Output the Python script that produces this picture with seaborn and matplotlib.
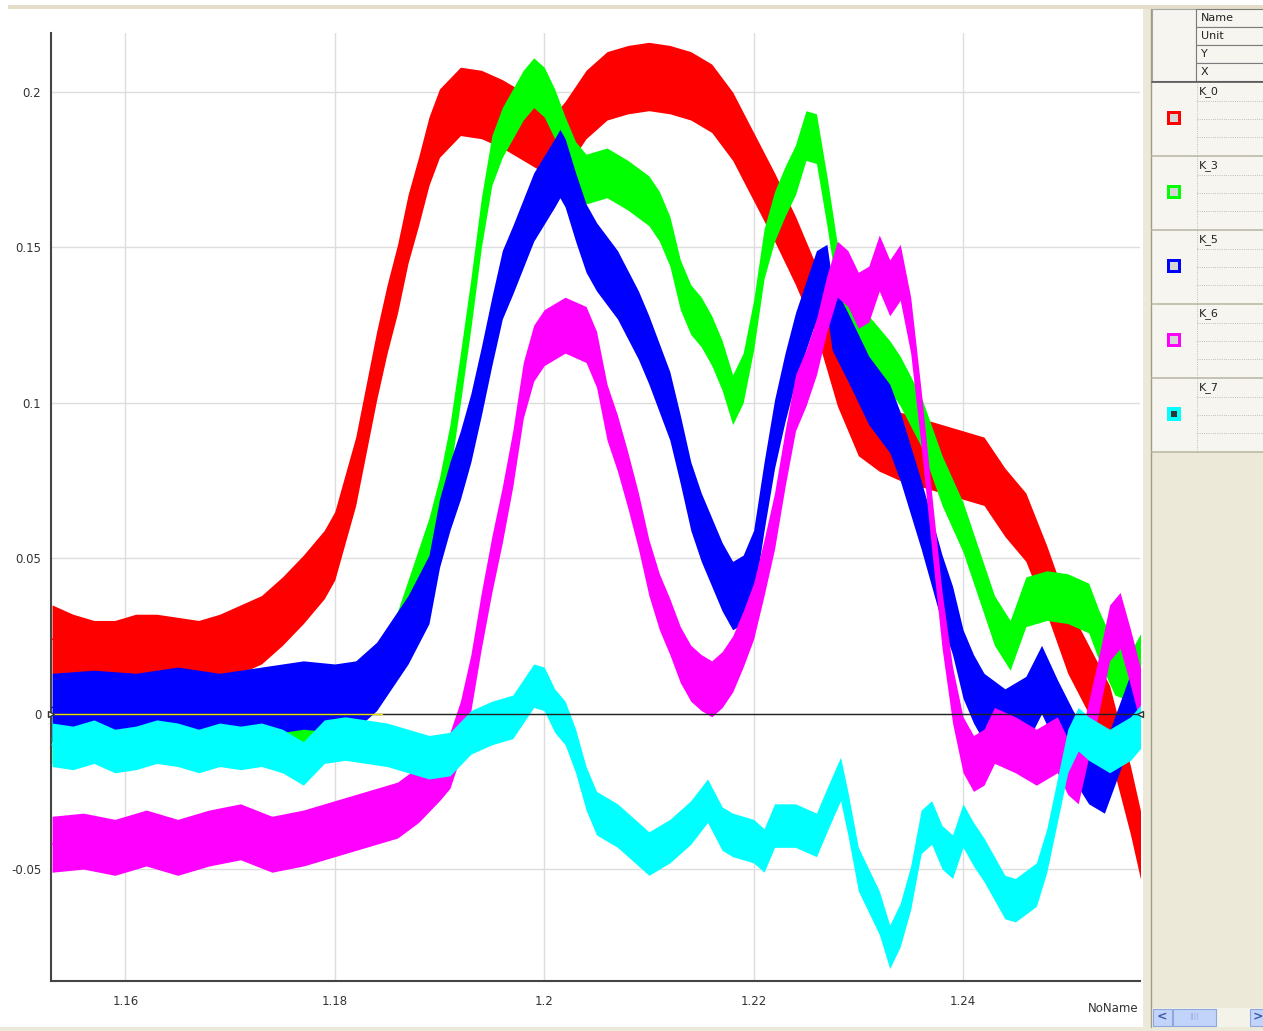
import numpy as np
import pandas as pd
import seaborn as sns
import matplotlib.pyplot as plt
from matplotlib.patches import Rectangle
from matplotlib.ticker import MultipleLocator

# --- data (centre of each noisy trace) ---
names = ['K_0', 'K_3', 'K_5', 'K_6', 'K_7']
colors = ['#ff0000', '#00ff00', '#0000ff', '#ff00ff', '#00ffff']

k0_x = [1.153, 1.155, 1.157, 1.159, 1.161, 1.163, 1.165, 1.167, 1.169, 1.171, 1.173, 1.175,
        1.177, 1.179, 1.180, 1.181, 1.182, 1.183, 1.184, 1.185, 1.186, 1.187, 1.188, 1.189,
        1.190, 1.192, 1.194, 1.196, 1.198, 1.200, 1.201, 1.202, 1.204, 1.206, 1.208, 1.210,
        1.212, 1.214, 1.216, 1.218, 1.220, 1.222, 1.224, 1.226, 1.228, 1.230, 1.232, 1.234,
        1.236, 1.238, 1.240, 1.242, 1.244, 1.246, 1.248, 1.250, 1.252, 1.254, 1.255, 1.256, 1.257]
k0_y = [0.024, 0.021, 0.019, 0.019, 0.021, 0.021, 0.020, 0.019, 0.021, 0.024, 0.027, 0.033,
        0.040, 0.048, 0.054, 0.066, 0.078, 0.095, 0.112, 0.127, 0.140, 0.156, 0.168, 0.181,
        0.190, 0.197, 0.196, 0.193, 0.189, 0.185, 0.182, 0.186, 0.196, 0.202, 0.204, 0.205,
        0.204, 0.202, 0.198, 0.189, 0.176, 0.163, 0.149, 0.133, 0.110, 0.094, 0.089, 0.086,
        0.084, 0.082, 0.080, 0.078, 0.068, 0.060, 0.043, 0.024, 0.011, -0.002, -0.015, -0.028, -0.043]

k3_x = [1.153, 1.157, 1.161, 1.165, 1.169, 1.173, 1.177, 1.180, 1.182, 1.184, 1.186, 1.187,
        1.188, 1.189, 1.190, 1.191, 1.192, 1.193, 1.194, 1.195, 1.196, 1.197, 1.198, 1.199,
        1.200, 1.201, 1.202, 1.203, 1.204, 1.206, 1.208, 1.210, 1.211, 1.212, 1.213, 1.214,
        1.215, 1.216, 1.217, 1.218, 1.219, 1.220, 1.221, 1.222, 1.223, 1.224, 1.225, 1.226,
        1.227, 1.228, 1.229, 1.231, 1.233, 1.234, 1.236, 1.238, 1.240, 1.242, 1.243, 1.2445,
        1.246, 1.248, 1.250, 1.252, 1.253, 1.2545, 1.256, 1.257]
k3_y = [-0.008, -0.006, -0.007, -0.005, -0.006, -0.004, -0.003, 0.000, 0.004, 0.012, 0.025, 0.035,
        0.045, 0.055, 0.068, 0.085, 0.108, 0.132, 0.158, 0.178, 0.187, 0.193, 0.199, 0.203,
        0.200, 0.193, 0.184, 0.176, 0.172, 0.174, 0.170, 0.165, 0.160, 0.152, 0.138, 0.130,
        0.126, 0.120, 0.112, 0.101, 0.108, 0.125, 0.148, 0.160, 0.168, 0.175, 0.186, 0.185,
        0.165, 0.143, 0.130, 0.120, 0.112, 0.107, 0.094, 0.075, 0.060, 0.040, 0.030, 0.022,
        0.036, 0.038, 0.037, 0.034, 0.025, 0.014, 0.012, 0.018]

k5_x = [1.153, 1.157, 1.161, 1.165, 1.169, 1.173, 1.177, 1.180, 1.182, 1.184, 1.185, 1.187,
        1.189, 1.190, 1.191, 1.192, 1.193, 1.194, 1.195, 1.196, 1.197, 1.199, 1.201, 1.2015,
        1.202, 1.203, 1.204, 1.205, 1.207, 1.209, 1.210, 1.211, 1.212, 1.213, 1.214, 1.215,
        1.216, 1.217, 1.218, 1.219, 1.220, 1.221, 1.222, 1.223, 1.224, 1.225, 1.226, 1.227,
        1.2275, 1.229, 1.231, 1.233, 1.234, 1.235, 1.236, 1.237, 1.238, 1.239, 1.240, 1.241,
        1.242, 1.244, 1.246, 1.2475, 1.249, 1.2505, 1.252, 1.2535, 1.2547, 1.256, 1.257]
k5_y = [0.002, 0.003, 0.002, 0.004, 0.002, 0.004, 0.006, 0.005, 0.006, 0.012, 0.017, 0.027,
        0.040, 0.058, 0.070, 0.080, 0.092, 0.107, 0.123, 0.138, 0.146, 0.163, 0.174, 0.177,
        0.174, 0.163, 0.153, 0.147, 0.138, 0.125, 0.117, 0.108, 0.099, 0.085, 0.070, 0.060,
        0.052, 0.044, 0.038, 0.040, 0.048, 0.070, 0.090, 0.105, 0.118, 0.128, 0.138, 0.140,
        0.128, 0.118, 0.104, 0.095, 0.086, 0.075, 0.064, 0.052, 0.040, 0.030, 0.016, 0.008,
        0.002, -0.003, 0.001, 0.011, 0.000, -0.010, -0.018, -0.021, -0.010, 0.002, 0.000]

k6_x = [1.153, 1.156, 1.159, 1.162, 1.165, 1.168, 1.171, 1.174, 1.177, 1.180, 1.183, 1.186,
        1.188, 1.190, 1.191, 1.192, 1.193, 1.194, 1.195, 1.196, 1.197, 1.198, 1.199, 1.200,
        1.202, 1.204, 1.205, 1.206, 1.207, 1.208, 1.209, 1.210, 1.211, 1.212, 1.213, 1.214,
        1.215, 1.216, 1.217, 1.218, 1.219, 1.220, 1.221, 1.222, 1.223, 1.224, 1.225, 1.226,
        1.227, 1.228, 1.229, 1.230, 1.231, 1.232, 1.233, 1.234, 1.235, 1.236, 1.237, 1.238,
        1.239, 1.240, 1.241, 1.242, 1.243, 1.245, 1.247, 1.249, 1.250, 1.251, 1.252, 1.253,
        1.254, 1.255, 1.256, 1.257]
k6_y = [-0.042, -0.041, -0.043, -0.040, -0.043, -0.040, -0.038, -0.042, -0.040, -0.037, -0.034, -0.031,
        -0.026, -0.019, -0.015, -0.005, 0.010, 0.030, 0.048, 0.064, 0.082, 0.104, 0.116, 0.121,
        0.125, 0.122, 0.114, 0.097, 0.087, 0.075, 0.062, 0.047, 0.036, 0.028, 0.019, 0.013,
        0.010, 0.008, 0.011, 0.016, 0.024, 0.033, 0.047, 0.062, 0.082, 0.100, 0.108, 0.118,
        0.132, 0.143, 0.140, 0.133, 0.135, 0.145, 0.137, 0.142, 0.125, 0.095, 0.062, 0.030,
        0.006, -0.010, -0.016, -0.014, -0.007, -0.010, -0.014, -0.010, -0.017, -0.020, -0.005, 0.010,
        0.026, 0.030, 0.018, 0.005]

k7_x = [1.153, 1.155, 1.157, 1.159, 1.161, 1.163, 1.165, 1.167, 1.169, 1.171, 1.173, 1.175,
        1.177, 1.179, 1.181, 1.183, 1.185, 1.187, 1.189, 1.191, 1.193, 1.195, 1.197, 1.198,
        1.199, 1.200, 1.201, 1.202, 1.203, 1.204, 1.205, 1.207, 1.209, 1.210, 1.212, 1.214,
        1.2156, 1.217, 1.218, 1.220, 1.221, 1.222, 1.224, 1.226, 1.227, 1.2283, 1.229, 1.230,
        1.231, 1.232, 1.233, 1.234, 1.235, 1.236, 1.237, 1.238, 1.239, 1.240, 1.241, 1.242,
        1.243, 1.244, 1.245, 1.247, 1.248, 1.249, 1.250, 1.251, 1.252, 1.254, 1.256, 1.257]
k7_y = [-0.010, -0.011, -0.009, -0.012, -0.011, -0.009, -0.010, -0.012, -0.010, -0.011, -0.010, -0.012,
        -0.016, -0.009, -0.008, -0.009, -0.010, -0.012, -0.014, -0.013, -0.006, -0.003, -0.001, 0.004,
        0.009, 0.008, 0.001, -0.003, -0.012, -0.024, -0.032, -0.036, -0.042, -0.045, -0.041, -0.035,
        -0.028, -0.037, -0.039, -0.041, -0.044, -0.036, -0.036, -0.039, -0.031, -0.021, -0.032, -0.050,
        -0.057, -0.064, -0.075, -0.068, -0.056, -0.038, -0.035, -0.043, -0.046, -0.036, -0.042, -0.047,
        -0.053, -0.059, -0.060, -0.055, -0.044, -0.028, -0.012, -0.005, -0.008, -0.012, -0.008, -0.004]

# thickness of the noise band around each trace (half width)
noise = [0.011, 0.008, 0.011, 0.009, 0.007]

xs_all = [k0_x, k3_x, k5_x, k6_x, k7_x]
ys_all = [k0_y, k3_y, k5_y, k6_y, k7_y]
df = pd.concat([pd.DataFrame({'x': xs, 'y': ys, 'name': n})
                for n, xs, ys in zip(names, xs_all, ys_all)], ignore_index=True)

sns.set_style('white')
plt.rcParams['font.family'] = ['DejaVu Sans']

W, H = 1263, 1031
fig = plt.figure(figsize=(W / 100, H / 100), dpi=100)

# background / side panel drawn in pixel coordinates
bg = fig.add_axes([0, 0, 1, 1], zorder=0)
bg.set_xlim(0, W)
bg.set_ylim(H, 0)
bg.axis('off')


def box(x0, y0, x1, y1, fc, ec='none', lw=0.8):
    bg.add_patch(Rectangle((x0, y0), x1 - x0, y1 - y0, fc=fc, ec=ec, lw=lw))


box(8, 5, W, 9, '#e3ddc9')
box(0, 1027, W, H, '#ece9d8')
box(1143, 9, W, 1027, '#ece9d8')
bg.plot([1151, 1151], [9, 1027], color='#a09c8c', lw=1)

# header of the legend table
box(1152, 9, 1196, 81, '#f6f5f0', '#a8a8a8')
for j, lab in enumerate(['Name', 'Unit', 'Y', 'X']):
    y0 = 9 + 18 * j
    box(1196, y0, W + 2, y0 + 18, '#f6f5f0', '#7c7c7c')
    bg.text(1201, y0 + 9, lab, fontsize=8, color='#222', va='center')
bg.plot([1152, W], [81.5, 81.5], color='#555', lw=1.2)

for i, (n, c) in enumerate(zip(names, colors)):
    y0 = 82 + 74 * i
    box(1152, y0, 1196, y0 + 74, '#f6f5f0')
    box(1196, y0, W, y0 + 74, '#f6f5f0')
    bg.plot([1152, W], [y0 + 74, y0 + 74], color='#bdb9a8', lw=1.2)
    bg.plot([1197, 1197], [y0, y0 + 74], color='#aaaaaa', lw=0.6, ls=':')
    for k in (19, 37, 55):
        bg.plot([1197, W], [y0 + k, y0 + k], color='#aaaaaa', lw=0.6, ls=':')
    bg.text(1199, y0 + 10, n, fontsize=8, color='#222', va='center')
    box(1167, y0 + 29, 1181, y0 + 43, c)
    if n == 'K_7':
        box(1171, y0 + 33, 1177, y0 + 39, '#333333')
    else:
        box(1170, y0 + 32, 1178, y0 + 40, '#d6d6d6')

# scrollbar
box(1152, 1008, W, 1027, '#f4f3ea')
box(1153, 1009, 1172, 1026, '#c3d4fb', '#8fa8dc')
box(1173, 1009, 1216, 1026, '#c3d4fb', '#8fa8dc')
box(1250, 1009, W + 2, 1026, '#c3d4fb', '#8fa8dc')
bg.text(1162, 1017, '<', fontsize=9, color='#3a5ca8', ha='center', va='center', weight='bold')
bg.text(1258, 1017, '>', fontsize=9, color='#3a5ca8', ha='center', va='center', weight='bold')
bg.text(1194, 1017, '||||', fontsize=5, color='#8fa8dc', ha='center', va='center')

bg.text(1113, 1008, 'NoName', fontsize=8.5, color='#333', ha='center', va='center')

# main plot
ax = fig.add_axes([51 / W, 50 / H, 1089 / W, 948 / H], zorder=1)
for i, (n, c, w) in enumerate(zip(names, colors, noise)):
    sub = df[df['name'] == n]
    ax.fill_between(sub['x'], sub['y'] - w, sub['y'] + w, color=c, lw=0, zorder=3 + i)
    sns.lineplot(data=sub, x='x', y='y', color=c, lw=1.0, ax=ax, sort=False,
                 estimator=None, zorder=3 + i)

ax.axhline(0, color='#222', lw=1, zorder=9)
ax.plot([1.1529, 1.1845], [0, 0], color='#e8e000', lw=1, zorder=10)

ax.set_xlim(1.1529, 1.2569)
ax.set_ylim(-0.086, 0.219)
ax.set_xticks([1.16, 1.18, 1.2, 1.22, 1.24])
ax.set_xticklabels(['1.16', '1.18', '1.2', '1.22', '1.24'])
ax.set_yticks([-0.05, 0, 0.05, 0.1, 0.15, 0.2])
ax.set_yticklabels(['-0.05', '0', '0.05', '0.1', '0.15', '0.2'])
ax.xaxis.set_minor_locator(MultipleLocator(0.01))
ax.yaxis.set_minor_locator(MultipleLocator(0.025))
ax.set_xlabel('')
ax.set_ylabel('')
ax.grid(True, which='major', color='#dddddd', lw=1, zorder=0)
ax.set_axisbelow(True)
for s in ('top', 'right'):
    ax.spines[s].set_visible(False)
for s in ('left', 'bottom'):
    ax.spines[s].set_color('#444')
    ax.spines[s].set_linewidth(1.5)
ax.tick_params(which='major', length=4, width=1.2, color='#333', labelsize=8.5,
               labelcolor='#333', pad=3)
ax.tick_params(which='minor', length=2, width=1, color='#333')
ax.tick_params(axis='x', pad=6)

# small end markers on the zero line
ax.plot([1.1529], [0], marker='>', ms=5, mfc='white', mec='#333', clip_on=False, zorder=11)
ax.plot([1.2569], [0], marker='<', ms=5, mfc='white', mec='#333', clip_on=False, zorder=11)

fig.savefig('out.png', dpi=100)
